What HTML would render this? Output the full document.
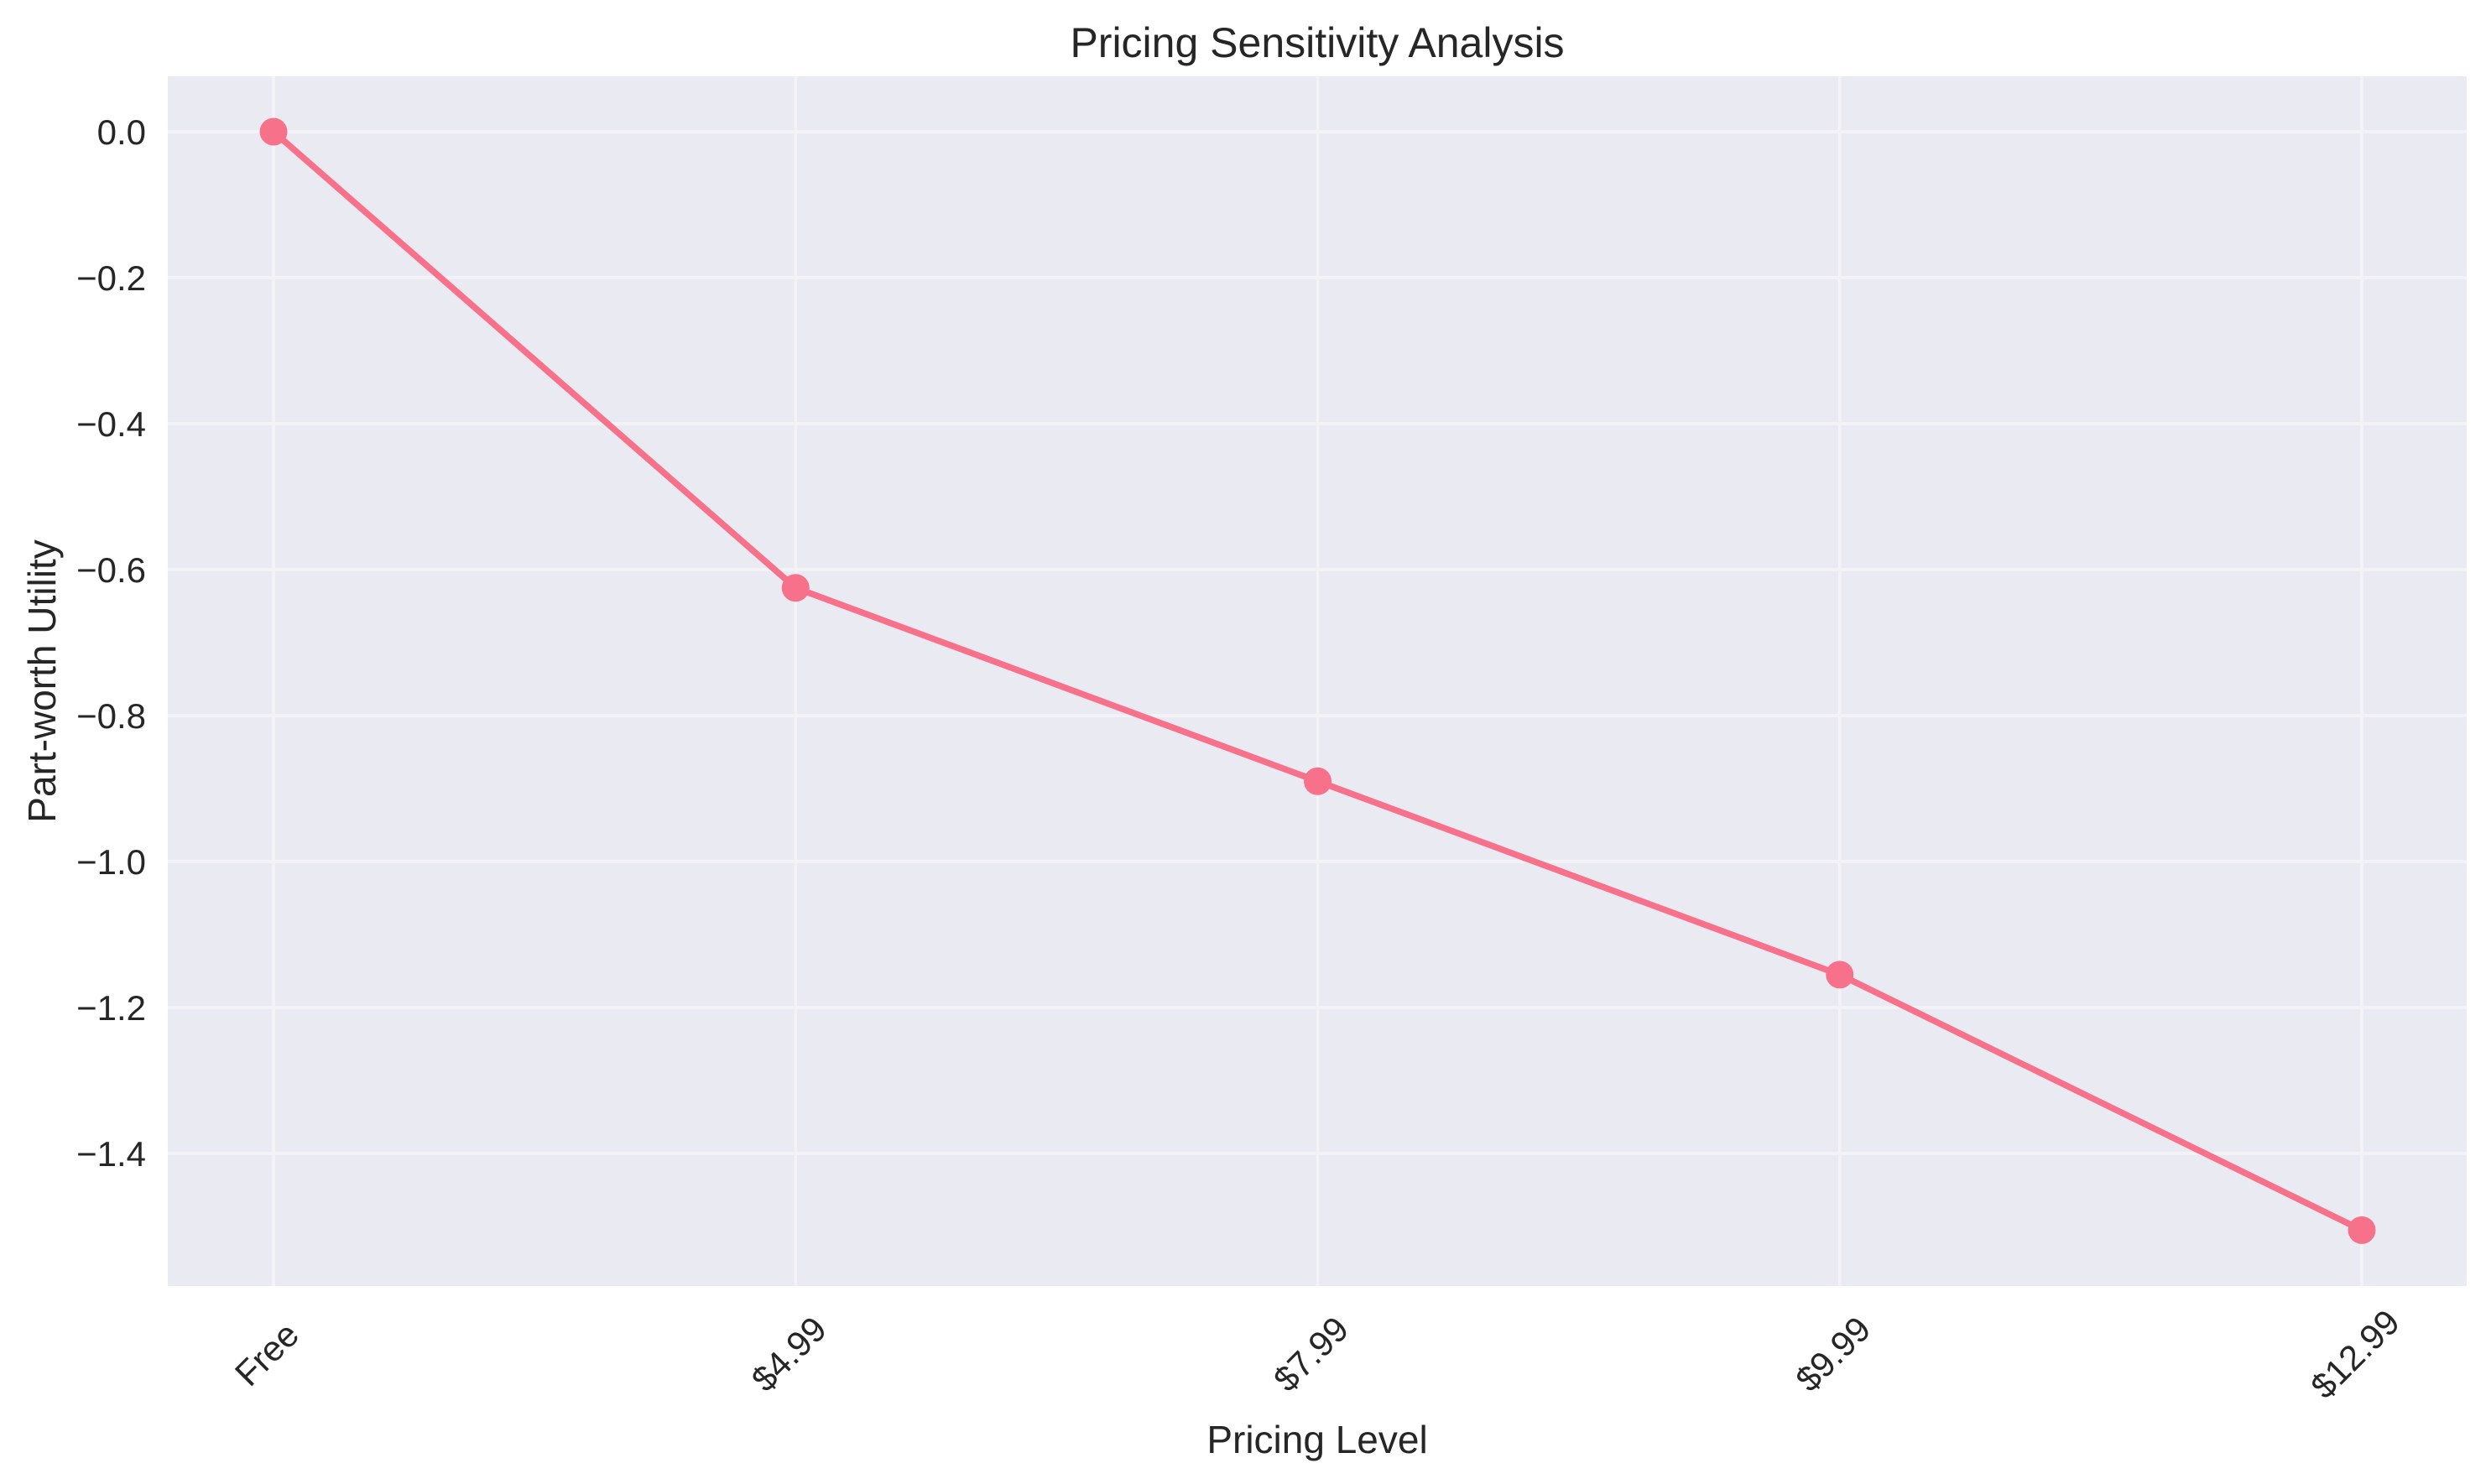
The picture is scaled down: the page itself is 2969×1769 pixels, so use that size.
<!DOCTYPE html>
<html><head><meta charset="utf-8"><style>body{margin:0;background:#fff}svg{display:block}text{font-family:"Liberation Sans",sans-serif;fill:#262626}</style></head>
<body>
<svg id="c" width="2969" height="1769" xmlns="http://www.w3.org/2000/svg">
<text x="1570" y="68" font-size="50" text-anchor="middle">Pricing Sensitivity Analysis</text>
<text x="1570" y="1732" font-size="46" text-anchor="middle">Pricing Level</text>
<text x="0" y="0" font-size="46" text-anchor="middle" transform="translate(66,812) rotate(-90)">Part-worth Utility</text>
</svg>
<script>
const categories=["Free","$4.99","$7.99","$9.99","$12.99"];
const utilities=[0,-0.625,-0.89,-1.155,-1.505];
const yTicks=[0,-0.2,-0.4,-0.6,-0.8,-1.0,-1.2,-1.4];
const yTickLabels=["0.0","\u22120.2","\u22120.4","\u22120.6","\u22120.8","\u22121.0","\u22121.2","\u22121.4"];
const NS="http://www.w3.org/2000/svg",svg=document.getElementById('c');
const L=200,R=2940,T=91,B=1533;
const xs=i=>326+i*(2815-326)/(categories.length-1);
const ys=v=>157-v*870;
function mk(t,a){const e=document.createElementNS(NS,t);for(const k in a)e.setAttribute(k,a[k]);svg.appendChild(e);return e;}
const bg=mk('rect',{x:L,y:T,width:R-L,height:B-T,fill:'#eaeaf2'});


yTicks.forEach((v,i)=>{
 const g=mk('line',{x1:L,x2:R,y1:ys(v),y2:ys(v),stroke:'#f3f3f7','stroke-width':3.5});
 
 
 const t=mk('text',{x:L-26,y:ys(v)+15,'font-size':42,'text-anchor':'end'});t.textContent=yTickLabels[i];
 
 
});
categories.forEach((c,i)=>{
 const g=mk('line',{x1:xs(i),x2:xs(i),y1:T,y2:B,stroke:'#f3f3f7','stroke-width':3.5});
 
 
 const t=mk('text',{x:0,y:0,'font-size':42,'text-anchor':'middle','dominant-baseline':'central',transform:`translate(${xs(i)-8},${1614}) rotate(-45)`});t.textContent=c;
 
 
});
const pl=mk('polyline',{points:utilities.map((v,i)=>xs(i)+','+ys(v)).join(' '),fill:'none',stroke:'#f7718a','stroke-width':7.5,'stroke-linejoin':'round'});


utilities.forEach((v,i)=>{
 const p=mk('circle',{cx:xs(i),cy:ys(v),r:16.5,fill:'#f7718a'});
 
 
});
</script>
</body></html>
